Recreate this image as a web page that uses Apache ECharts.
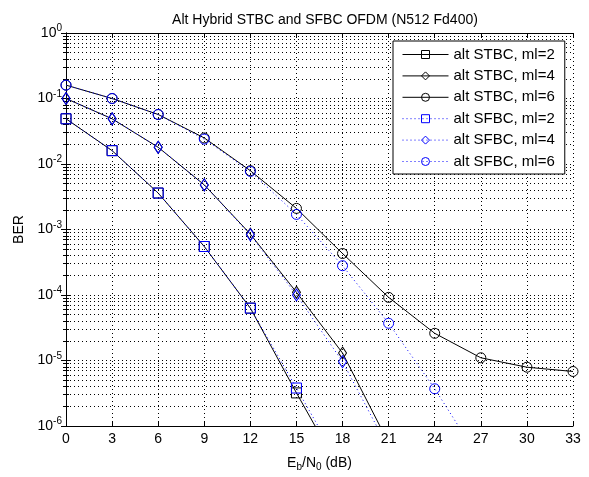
<!DOCTYPE html>
<html><head><meta charset="utf-8">
<script src="https://cdn.jsdelivr.net/npm/echarts@6/dist/echarts.min.js"></script>
<style>html,body{margin:0;padding:0;background:#fff}#c{width:589px;height:477px}</style>
</head><body><div id="c"></div>
<script>
const snr = [0, 3, 6, 9, 12, 15, 18, 21, 24, 27, 30, 33];
const stbc2 = [0.049, 0.016, 0.0036, 5.5e-4, 6.3e-5, 3.2e-6, 1.8e-7];
const stbc4 = [0.10, 0.049, 0.018, 0.0048, 8.5e-4, 1.1e-4, 1.3e-5, 5.5e-7];
const stbc6 = [0.16, 0.10, 0.057, 0.025, 0.0079, 0.0021, 4.3e-4, 9.2e-5, 2.6e-5, 1.1e-5, 7.9e-6, 6.8e-6];
const sfbc2 = [0.049, 0.016, 0.0036, 5.5e-4, 6.3e-5, 3.8e-6, 2.2e-7];
const sfbc4 = [0.10, 0.049, 0.018, 0.0048, 8.3e-4, 1.0e-4, 9.6e-6, 4.5e-7];
const sfbc6 = [0.16, 0.10, 0.057, 0.024, 0.0077, 0.0017, 2.8e-4, 3.7e-5, 3.7e-6, 2.9e-7];
const names = ['alt STBC, ml=2', 'alt STBC, ml=4', 'alt STBC, ml=6', 'alt SFBC, ml=2', 'alt SFBC, ml=4', 'alt SFBC, ml=6'];
const xTicks = [0, 3, 6, 9, 12, 15, 18, 21, 24, 27, 30, 33];

const FONT = 'Liberation Sans, Arial, sans-serif';
const pairs = arr => arr.map((v, i) => [snr[i], v]);

function mk(name, arr, symbol, size, color, dashed) {
  return {
    name, type: 'line', data: pairs(arr), symbol, symbolSize: size,
    clip: true, animation: false,
    lineStyle: { color, width: 1, type: dashed ? [1, 3] : 'solid' },
    itemStyle: { color: 'transparent', borderColor: color, borderWidth: 1 },
    emphasis: { disabled: true }
  };
}
const grid = { left: 66, top: 33, right: 16, bottom: 46 };
const gridLine = { show: true, lineStyle: { color: '#000', width: 1, type: [1, 3] } };
const yFmt = v => '{b|10}{s|' + Math.round(Math.log10(v)) + '}';

const option = {
  backgroundColor: '#fff',
  animation: false,
  title: {
    text: 'Alt Hybrid STBC and SFBC OFDM (N512 Fd400)',
    left: 320, top: 8, textAlign: 'center',
    textStyle: { fontFamily: FONT, fontSize: 14, fontWeight: 'normal', color: '#000' }
  },
  legend: {
    orient: 'vertical', left: 393, top: 41,
    data: names,
    itemWidth: 46, itemHeight: 10, itemGap: 6.4,
    padding: [6, 10, 5, 9],
    backgroundColor: '#fff', borderColor: '#000', borderWidth: 1,
    lineStyle: { width: 1 },
    itemStyle: { borderWidth: 1 },
    textStyle: { fontFamily: FONT, fontSize: 15, lineHeight: 15, color: '#000' }
  },
  grid,
  xAxis: [{
    type: 'value', min: 0, max: 33, interval: 3,
    name: '{n|E}{sub|b}{n|/N}{sub|0}{n| (dB)}', nameLocation: 'middle', nameGap: 29,
    nameTextStyle: { rich: {
      n: { fontFamily: FONT, fontSize: 14, color: '#000' },
      sub: { fontFamily: FONT, fontSize: 10, color: '#000', verticalAlign: 'bottom', padding: [7, 0, 0, 0] }
    } },
    axisLine: { show: true, lineStyle: { color: '#000', width: 1 } },
    axisTick: { show: true, inside: true, length: 5, lineStyle: { color: '#000' } },
    axisLabel: { fontFamily: FONT, fontSize: 14, color: '#000', margin: 6, customValues: xTicks },
    splitLine: gridLine
  }, {
    type: 'value', min: 0, max: 33, interval: 3, position: 'top',
    axisLine: { show: true, lineStyle: { color: '#000', width: 1 } },
    axisTick: { show: true, inside: true, length: 5, lineStyle: { color: '#000' } },
    axisLabel: { show: false }, splitLine: { show: false }
  }],
  yAxis: [{
    type: 'log', min: 1e-6, max: 1, logBase: 10,
    name: 'BER', nameLocation: 'middle', nameGap: 40,
    nameTextStyle: { fontFamily: FONT, fontSize: 14, color: '#000' },
    axisLine: { show: true, lineStyle: { color: '#000', width: 1 } },
    axisTick: { show: true, inside: true, length: 5, lineStyle: { color: '#000' } },
    minorTick: { show: true, splitNumber: 9, length: 3, lineStyle: { color: '#000' } },
    minorSplitLine: gridLine,
    axisLabel: { formatter: yFmt, margin: 4, rich: {
      b: { fontFamily: FONT, fontSize: 14, color: '#000' },
      s: { fontFamily: FONT, fontSize: 10, color: '#000', verticalAlign: 'top', padding: [0, 0, 9, 0] }
    } },
    splitLine: gridLine
  }, {
    type: 'log', min: 1e-6, max: 1, logBase: 10, position: 'right',
    axisLine: { show: true, lineStyle: { color: '#000', width: 1 } },
    axisTick: { show: true, inside: true, length: 5, lineStyle: { color: '#000' } },
    minorTick: { show: true, splitNumber: 9, length: 3, lineStyle: { color: '#000' } },
    axisLabel: { show: false }, splitLine: { show: false }
  }],
  series: [
    mk(names[0], stbc2, 'rect', 10, '#000', false),
    mk(names[1], stbc4, 'diamond', [8, 12], '#000', false),
    mk(names[2], stbc6, 'circle', 10, '#000', false),
    mk(names[3], sfbc2, 'rect', 10, '#0000ff', true),
    mk(names[4], sfbc4, 'diamond', [8, 12], '#0000ff', true),
    mk(names[5], sfbc6, 'circle', 10, '#0000ff', true)
  ]
};
echarts.init(document.getElementById('c'), null, { renderer: 'canvas' }).setOption(option);
</script></body></html>
